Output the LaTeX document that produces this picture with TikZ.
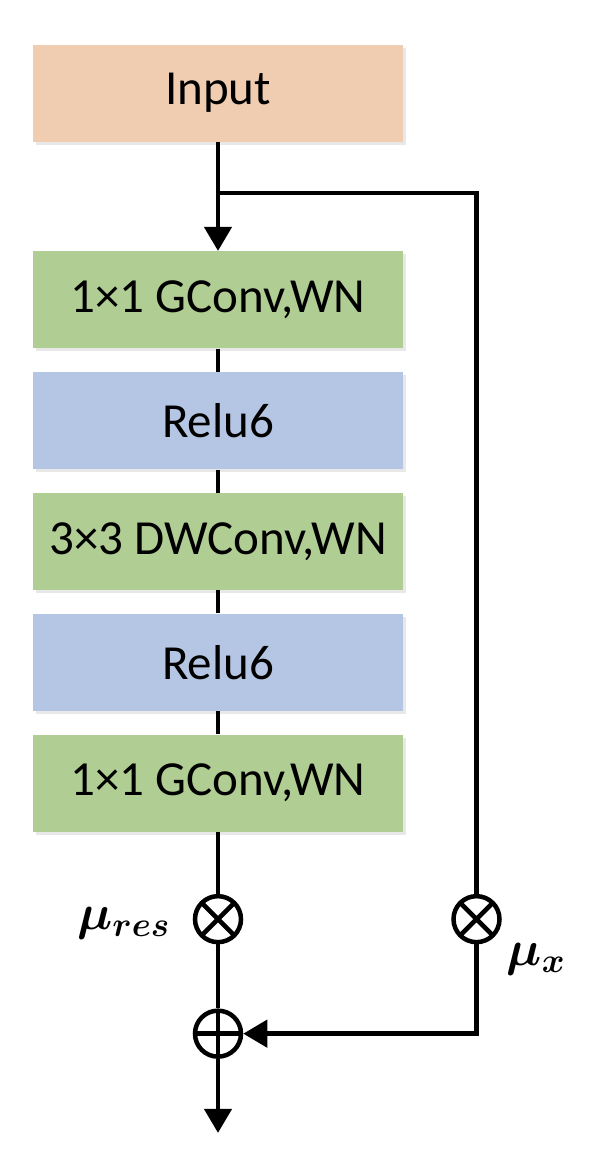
\documentclass[tikz,border=0pt]{standalone}
\usepackage{amsmath,bm}
\usepackage{fontspec}
\setmainfont{Carlito}
\usetikzlibrary{positioning,calc,arrows.meta,shadows}
\definecolor{inorange}{HTML}{F0CDB0}
\definecolor{convgreen}{HTML}{B0CD94}
\definecolor{relublue}{HTML}{B5C6E4}
\tikzset{
	block/.style={minimum width=185pt,minimum height=48.5pt,inner sep=0pt,
		font=\fontsize{24.5}{29}\selectfont,
		drop shadow={opacity=0.18,shadow xshift=1.5pt,shadow yshift=-1.5pt}},
	link/.style={line width=2.25pt},
	flow/.style={line width=2.25pt,-{Triangle[length=12pt,width=13.5pt]}},
	opnode/.style={circle,draw,fill=white,line width=2.25pt,minimum size=23pt,inner sep=0pt},
	mulop/.style={opnode,path picture={\draw[line width=2.25pt]
		(path picture bounding box.north west)--(path picture bounding box.south east)
		(path picture bounding box.north east)--(path picture bounding box.south west);}},
	addop/.style={opnode,path picture={\draw[line width=2.25pt]
		(path picture bounding box.north)--(path picture bounding box.south)
		(path picture bounding box.east)--(path picture bounding box.west);}},
	coef/.style={inner sep=0pt,font=\fontsize{26}{30}\selectfont}
}
\begin{document}
\begin{tikzpicture}[x=0.5pt,y=-0.5pt]
	\useasboundingbox (0,0) rectangle (590,1152);
	% blocks
	\node[block,fill=inorange] (in) at (218,93) {Input};
	\node[block,fill=convgreen,below=54.5pt of in] (g1) {1×1 GConv,WN};
	\node[block,fill=relublue,below=11.5pt of g1] (r1) {Relu6};
	\node[block,fill=convgreen,below=11.5pt of r1] (g2) {3×3 DWConv,WN};
	\node[block,fill=relublue,below=11.5pt of g2] (r2) {Relu6};
	\node[block,fill=convgreen,below=11.5pt of r2] (g3) {1×1 GConv,WN};
	% operators
	\node[mulop,below=31pt of g3] (mres) {};
	\node[mulop,right=104pt of mres] (mx) {};
	\node[addop,below=32pt of mres] (add) {};
	\coordinate (br) at ($(in.south)!0.47!(g1.north)$);
	\coordinate[below=37pt of add] (out);
	\node[coef,left=11pt of mres,yshift=-2pt] (lres) {$\bm{\mu_{res}}$};
	\node[coef,below right=3pt and 6pt of mx] (lx) {$\bm{\mu_x}$};
	% connectors
	\draw[flow] (in) -- (g1);
	\foreach \a/\b in {g1/r1,r1/g2,g2/r2,r2/g3}
		\draw[link] (\a) -- (\b);
	\draw[link] (g3) -- (mres);
	\draw[link] (mres) -- (add);
	\draw[flow] (add) -- (out);
	\draw[link] (br) -| (mx);
	\draw[flow] (mx) |- (add);
\end{tikzpicture}
\end{document}
